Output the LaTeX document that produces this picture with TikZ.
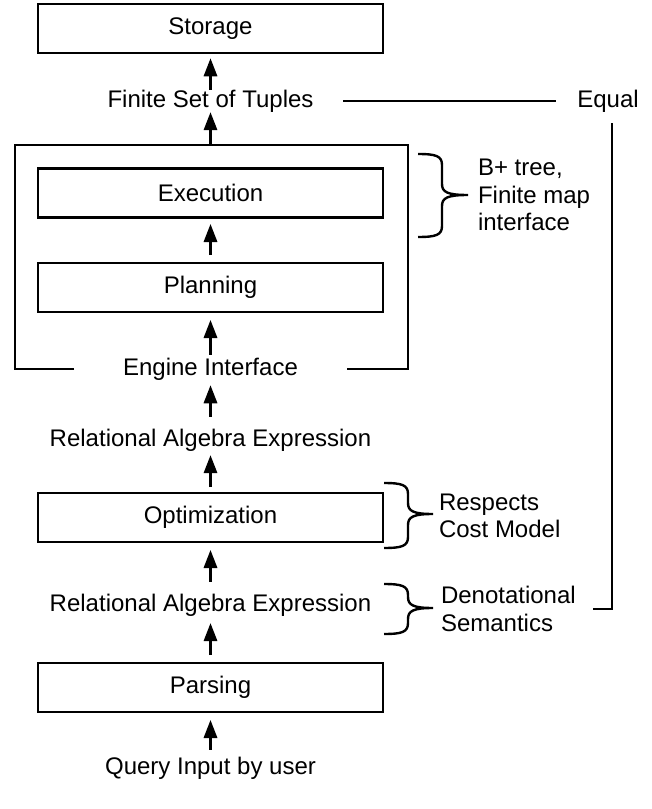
\documentclass[tikz,border=0pt]{standalone}
\usepackage{fontspec}
\setmainfont{Liberation Sans}
\usetikzlibrary{arrows.meta}
\newcommand\mybrace[6]{% x0 xs xt y0 ym y1
 \draw[ln] (#1,#4) .. controls ({#2-6},#4) and (#2,{#4+2}) .. (#2,{#4+11}) -- (#2,{#5-11}) .. controls (#2,{#5-3}) and ({#2+5},#5) .. (#3,#5) .. controls ({#2+5},#5) and (#2,{#5+3}) .. (#2,{#5+11}) -- (#2,{#6-11}) .. controls (#2,{#6-2}) and ({#2-6},#6) .. (#1,#6);}
\begin{document}
\begin{tikzpicture}[x=0.75pt,y=-0.75pt,
  every node/.style={font=\fontsize{18}{20.6}\selectfont, inner sep=0pt, outer sep=0pt},
  procbox/.style={draw, line width=1.8pt, minimum width=258.75pt, minimum height=36.75pt},
  lbl/.style={text height=13pt, text depth=3.8pt},
  note/.style={align=left, anchor=west},
  arr/.style={line width=1.7pt, -{Triangle[length=13.5pt,width=10pt]}},
  ln/.style={line width=1.8pt},
]
\useasboundingbox (0,0) rectangle (652,809);

% boxes
\node[procbox] (storage) at (210.5,28.5) {Storage};
\node[procbox] (execution) at (210.5,193) {Execution};
\node[procbox] (planning) at (210.5,287.5) {Planning};
\node[procbox] (optim) at (210.5,517.5) {Optimization};
\node[procbox] (parsing) at (210.5,687.5) {Parsing};

% labels
\node[lbl] (finite) at (210.5,101) {Finite Set of Tuples};
\node[lbl] (engine) at (210.5,369) {Engine Interface};
\node[lbl] (rel1) at (210.5,440) {Relational Algebra Expression};
\node[lbl] (rel2) at (210.5,605) {Relational Algebra Expression};
\node[lbl] (query) at (210.5,768) {Query Input by user};
\node[lbl] (equal) at (608,101) {Equal};
\node[note] (btree) at (478,195) {B+ tree,\\Finite map\\interface};
\node[note] (respects) at (439,516) {Respects\\Cost Model};
\node[note] (den) at (441,609) {Denotational\\Semantics};

% outer engine frame
\coordinate (otop) at (210.5,145);
\draw[ln] (74,369) -- (15,369) -- (15,145) -- (408,145) -- (408,369) -- (347,369);

% arrows
\draw[arr, shorten >=4pt] (finite) -- (storage);
\draw[arr] (otop) -- (finite);
\draw[arr, shorten <=6pt, shorten >=4.9pt] (planning) -- (execution);
\draw[arr, shorten <=2.2pt, shorten >=6pt] (engine) -- (planning);
\draw[arr, shorten <=9pt, shorten >=3.8pt] (rel1) -- (engine);
\draw[arr, shorten <=4.5pt, shorten >=3pt] (optim) -- (rel1);
\draw[arr, shorten <=9pt, shorten >=6pt] (rel2) -- (optim);
\draw[arr, shorten <=6pt, shorten >=5.2pt] (parsing) -- (rel2);
\draw[arr, shorten <=5.2pt, shorten >=6pt] (query) -- (parsing);

% equal connector
\draw[ln, shorten <=22.5pt, shorten >=16pt] (finite) -- (equal);
\draw[ln] ([xshift=3pt,yshift=-8.25pt]equal.south) |- ([xshift=13pt]den.east);

% braces
\mybrace{418}{442}{468}{154}{195}{237}
\mybrace{384}{408}{433}{483}{514}{548}
\mybrace{384}{408}{433}{584}{608}{634}
\end{tikzpicture}
\end{document}
